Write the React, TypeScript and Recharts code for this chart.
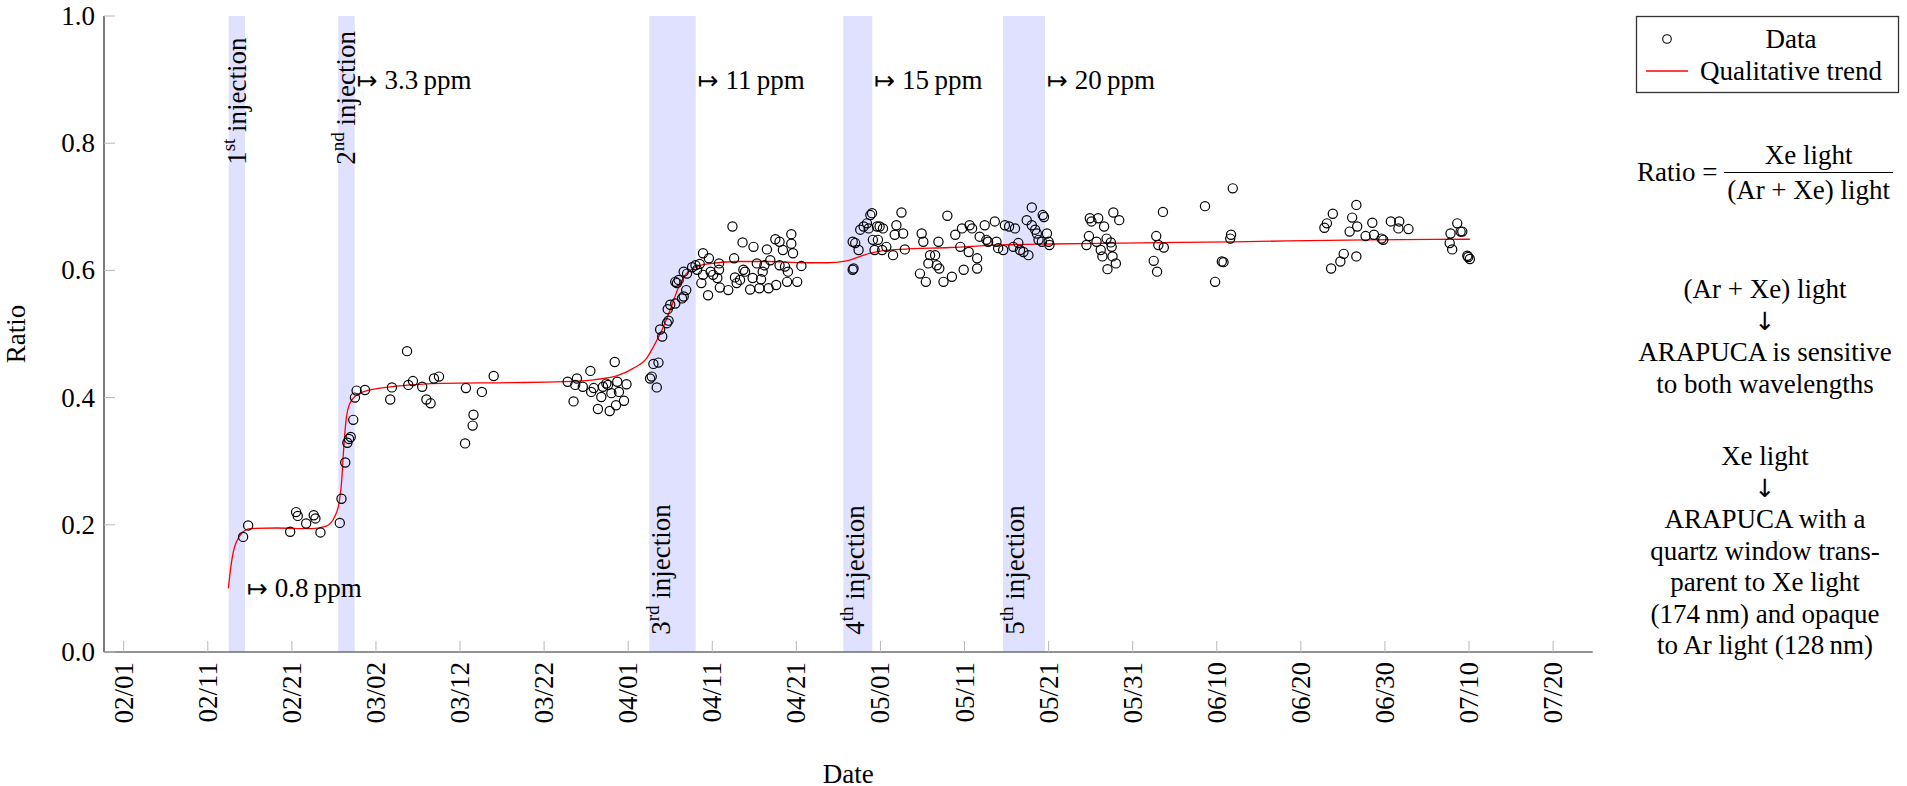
import { ComposedChart, Scatter, Line, XAxis, YAxis, ReferenceArea } from 'recharts'

const SERIF = '"Liberation Serif", "DejaVu Serif", serif'
const ARROWS = '"DejaVu Sans", sans-serif'

// day 0 = 02/01 (2024, leap year)
const START = Date.UTC(2024, 1, 1)
const DAY_MS = 86400000

const xTicks = [0, 10, 20, 30, 40, 50, 60, 70, 80, 90, 100, 110, 120, 130, 140, 150, 160, 170]
const yTicks = [0, 0.2, 0.4, 0.6, 0.8, 1.0]

// injection windows (days since 02/01)
const injectionStart = [12.49, 25.52, 62.51, 85.59, 104.58]
const injectionEnd = [14.43, 27.47, 68.03, 89.03, 109.57]
const injectionSuffix = ['st', 'nd', 'rd', 'th', 'th']
const concentration = ['0.8', '3.3', '11', '15', '20']

// measured ratio, [day, ratio]
const run08ppm: [number, number][] = [
  [14.2, 0.181], [14.8, 0.199], [19.8, 0.189], [20.5, 0.22], [20.7, 0.214], [21.7, 0.202],
  [22.6, 0.215], [22.8, 0.21], [23.4, 0.188], [25.7, 0.203], [25.9, 0.241],
]

const run33ppm: [number, number][] = [
  [26.35, 0.298], [26.6, 0.329], [26.8, 0.335], [27.0, 0.338], [27.3, 0.365], [27.5, 0.4],
  [27.7, 0.411], [28.7, 0.412], [31.7, 0.397], [31.9, 0.416], [33.7, 0.473], [33.85, 0.42],
  [34.4, 0.426], [35.5, 0.417], [36.0, 0.397], [36.5, 0.391], [36.9, 0.43], [37.5, 0.433],
  [40.6, 0.328], [40.7, 0.415], [41.5, 0.356], [41.6, 0.373], [42.6, 0.409], [44.0, 0.434],
  [52.8, 0.425], [53.5, 0.394], [53.7, 0.42], [53.9, 0.43], [54.6, 0.417], [55.5, 0.442],
  [55.6, 0.409], [55.9, 0.415], [56.4, 0.382], [56.8, 0.401], [57.0, 0.417], [57.4, 0.422],
  [57.6, 0.42], [57.8, 0.379], [58.0, 0.407], [58.4, 0.456], [58.55, 0.388], [58.7, 0.425],
  [58.9, 0.409], [59.5, 0.395], [59.8, 0.421],
]

const rise3rd: [number, number][] = [
  [62.6, 0.43], [62.8, 0.433], [63.0, 0.453], [63.4, 0.416], [63.6, 0.455], [63.8, 0.507],
  [64.05, 0.496], [64.6, 0.517], [64.7, 0.539], [64.8, 0.521], [65.0, 0.546], [65.6, 0.548],
  [65.6, 0.582], [65.8, 0.58], [66.0, 0.585], [66.4, 0.556], [66.6, 0.559], [66.6, 0.598],
  [66.9, 0.569], [67.0, 0.595], [67.6, 0.605], [68.0, 0.608],
]

const run11ppm: [number, number][] = [
  [68.2, 0.601], [68.5, 0.61], [68.7, 0.58], [68.9, 0.627], [68.9, 0.593], [69.5, 0.561],
  [69.6, 0.619], [69.8, 0.598], [70.1, 0.593], [70.6, 0.588], [70.8, 0.611], [70.8, 0.601],
  [70.9, 0.573], [71.9, 0.569], [72.4, 0.669], [72.6, 0.619], [72.7, 0.589], [72.9, 0.58],
  [73.3, 0.585], [73.6, 0.644], [73.7, 0.601], [73.9, 0.598], [74.5, 0.57], [74.8, 0.588],
  [74.9, 0.637], [75.3, 0.611], [75.6, 0.572], [75.8, 0.586], [76.0, 0.598], [76.2, 0.608],
  [76.5, 0.633], [76.7, 0.572], [76.9, 0.616], [77.5, 0.649], [77.6, 0.577], [78.0, 0.645],
  [78.0, 0.608], [78.4, 0.632], [78.65, 0.606], [78.9, 0.582], [79.0, 0.598], [79.4, 0.657],
  [79.4, 0.642], [79.6, 0.627], [80.1, 0.582], [80.6, 0.607],
]

const run15ppm: [number, number][] = [
  [86.7, 0.601], [86.8, 0.603], [86.7, 0.645], [87.0, 0.643], [87.4, 0.632], [87.6, 0.664],
  [88.0, 0.669], [88.4, 0.674], [88.6, 0.666], [88.8, 0.687], [89.0, 0.69], [89.1, 0.648],
  [89.3, 0.632], [89.6, 0.669], [89.7, 0.648], [89.9, 0.669], [90.2, 0.632], [90.3, 0.666],
  [90.7, 0.637], [91.5, 0.624], [91.7, 0.656], [91.9, 0.671], [92.5, 0.691], [92.7, 0.658],
  [92.9, 0.633], [94.7, 0.595], [94.9, 0.658], [95.1, 0.645], [95.4, 0.582], [95.7, 0.611],
  [95.9, 0.624], [96.5, 0.624], [96.7, 0.608], [96.9, 0.645], [97.0, 0.603], [97.5, 0.582],
  [97.96, 0.686], [98.5, 0.59], [98.9, 0.656], [99.5, 0.637], [99.7, 0.666], [99.9, 0.601],
  [100.5, 0.629], [100.6, 0.671], [100.9, 0.666], [101.5, 0.619], [101.5, 0.603], [101.8, 0.653],
  [102.4, 0.671], [102.6, 0.648], [102.8, 0.645], [103.6, 0.677], [103.8, 0.645], [104.0, 0.635],
]

const run20ppm: [number, number][] = [
  [104.6, 0.632], [104.8, 0.671], [105.3, 0.669], [105.8, 0.637], [106.0, 0.666], [106.4, 0.643],
  [106.6, 0.632], [107.0, 0.629], [107.4, 0.679], [107.6, 0.624], [108.0, 0.699], [108.0, 0.671],
  [108.4, 0.664], [108.6, 0.658], [108.8, 0.648], [109.2, 0.645], [109.3, 0.687], [109.45, 0.684],
  [109.8, 0.658], [110.0, 0.645], [110.1, 0.64],
  [114.5, 0.64], [114.8, 0.654], [114.9, 0.682], [115.1, 0.677], [115.7, 0.645], [115.9, 0.682],
  [116.2, 0.632], [116.4, 0.622], [116.6, 0.669], [116.9, 0.65], [117.0, 0.602], [117.4, 0.644],
  [117.5, 0.637], [117.6, 0.622], [117.7, 0.691], [118.0, 0.611], [118.4, 0.679],
]

const runLate: [number, number][] = [
  [122.5, 0.615], [122.8, 0.654], [122.9, 0.598], [123.05, 0.64], [123.6, 0.692], [123.7, 0.636],
  [128.6, 0.701], [129.8, 0.582], [130.6, 0.614], [130.8, 0.613], [131.6, 0.65], [131.7, 0.656],
  [131.9, 0.729],
  [142.8, 0.667], [143.1, 0.674], [143.6, 0.603], [143.8, 0.689], [144.7, 0.614], [145.1, 0.626],
  [145.8, 0.661], [146.1, 0.683], [146.6, 0.703], [146.6, 0.622], [146.7, 0.669], [147.7, 0.654],
  [148.5, 0.675], [148.7, 0.656], [149.6, 0.65], [149.8, 0.648], [150.7, 0.677], [151.6, 0.666],
  [151.7, 0.677], [152.8, 0.665],
  [157.7, 0.643], [157.8, 0.658], [158.0, 0.633], [158.6, 0.674], [159.0, 0.661], [159.2, 0.661],
  [159.8, 0.623], [159.9, 0.621], [160.1, 0.618],
]

// qualitative trend
const trendPoints: [number, number][] = [
  [12.45, 0.1], [12.65, 0.124], [13.0, 0.155], [13.4, 0.173], [14.2, 0.189], [15.0, 0.194],
  [18.2, 0.195], [22.2, 0.194], [24.1, 0.198], [25.1, 0.213], [25.6, 0.234], [25.9, 0.265],
  [26.1, 0.307], [26.3, 0.344], [26.5, 0.37], [26.9, 0.391], [27.7, 0.404], [29.3, 0.412],
  [32.5, 0.418], [38.0, 0.4225], [45.9, 0.4235], [52.3, 0.425], [55.9, 0.428], [58.6, 0.434],
  [60.6, 0.446], [62.2, 0.462], [63.0, 0.48], [64.0, 0.506], [65.0, 0.538], [66.0, 0.574],
  [66.8, 0.593], [67.7, 0.603], [69.3, 0.61], [72.9, 0.614], [76.9, 0.614], [80.8, 0.612],
  [83.6, 0.612], [86.0, 0.615], [87.6, 0.622], [88.8, 0.627], [90.3, 0.631], [92.3, 0.633],
  [98.3, 0.636], [104.2, 0.64], [110.2, 0.6415], [116.2, 0.6425], [132.0, 0.645], [147.8, 0.648],
  [160.1, 0.649],
]

const observations = [...run08ppm, ...run33ppm, ...rise3rd, ...run11ppm, ...run15ppm, ...run20ppm, ...runLate]
  .map(([day, ratio]) => ({ day, ratio }))
const trend = trendPoints.map(([day, ratio]) => ({ day, ratio }))

const fmtDate = (d: number) => {
  const t = new Date(START + d * DAY_MS)
  return `${String(t.getUTCMonth() + 1).padStart(2, '0')}/${String(t.getUTCDate()).padStart(2, '0')}`
}

const TICK_GRAY = '#b8b8b8'

const BottomTick = ({ x, y, payload }: any) => (
  <g>
    <line x1={x} y1={y} x2={x} y2={y - 11} stroke={TICK_GRAY} />
    <text x={x} y={y + 10} transform={`rotate(-90 ${x} ${y + 10})`} textAnchor="end" dominantBaseline="central"
      fontSize={27} fontFamily={SERIF} fill="#000">{fmtDate(payload.value)}</text>
  </g>
)

const TopTick = ({ x, y }: any) => <line x1={x} y1={y} x2={x} y2={y + 11} stroke={TICK_GRAY} />

const LeftTick = ({ x, y, payload }: any) => (
  <g>
    <line x1={x} y1={y} x2={x + 11} y2={y} stroke={TICK_GRAY} />
    <text x={x - 9} y={y} textAnchor="end" dominantBaseline="central" fontSize={27} fontFamily={SERIF} fill="#000">
      {payload.value.toFixed(1)}
    </text>
  </g>
)

const RightTick = ({ x, y }: any) => <line x1={x - 11} y1={y} x2={x} y2={y} stroke={TICK_GRAY} />

const Ring = (p: any) => <circle cx={p.cx} cy={p.cy} r={4.6} fill="none" stroke="#000" strokeWidth={1.2} />

// drawn in a second pass so the text sits above every band
const BandAnnotation = ({ viewBox, index }: any) => {
  if (!viewBox) return null
  const { x, y, width, height } = viewBox
  const atTop = index < 2
  const lx = x + Math.min(width / 2, 12)
  const ly = y + height * (1 - (atTop ? 0.766 : 0.027))
  const py = y + height * (1 - (index === 0 ? 0.1 : 0.9))
  return (
    <g fontFamily={SERIF} fill="#000">
      <text x={lx} y={ly} transform={`rotate(-90 ${lx} ${ly})`} fontSize={27} dominantBaseline="central">
        <tspan>{index + 1}</tspan>
        <tspan dy={-9} fontSize={19}>{injectionSuffix[index]}</tspan>
        <tspan dy={9}>{' injection'}</tspan>
      </text>
      <text x={x + width + 2} y={py} fontSize={27} dominantBaseline="central">
        <tspan fontFamily={ARROWS} fontSize={25}>{'\u21A6'}</tspan>
        <tspan>{' ' + concentration[index] + '\u2009ppm'}</tspan>
      </text>
    </g>
  )
}

const LegendBox = () => (
  <svg width={266} height={80} style={{ position: 'absolute', left: 1635, top: 15 }}>
    <rect x={1.5} y={1.5} width={262} height={76} fill="#fff" stroke="#333" strokeWidth={1.3} />
    <circle cx={32} cy={24} r={4.3} fill="none" stroke="#000" strokeWidth={1.1} />
    <line x1={11} x2={53} y1={56} y2={56} stroke="#ff0000" strokeWidth={1.3} />
    <text x={156} y={24} textAnchor="middle" dominantBaseline="central" fontSize={27} fontFamily={SERIF}>Data</text>
    <text x={156} y={56} textAnchor="middle" dominantBaseline="central" fontSize={27} fontFamily={SERIF}>Qualitative trend</text>
  </svg>
)

const Down = () => <span style={{ fontFamily: ARROWS, fontSize: 25 }}>↓</span>

const SideNotes = () => {
  const block = { position: 'absolute' as const, left: 1615, width: 300, textAlign: 'center' as const, fontSize: 27, lineHeight: '31.5px' }
  return (
    <>
      <div style={{ position: 'absolute', left: 1615, width: 300, top: 132, height: 80, display: 'flex', alignItems: 'center', justifyContent: 'center', fontSize: 27 }}>
        <span>Ratio&nbsp;=&nbsp;</span>
        <span style={{ display: 'inline-flex', flexDirection: 'column', alignItems: 'center' }}>
          <span style={{ lineHeight: '34px' }}>Xe light</span>
          <span style={{ borderTop: '1.5px solid #000', alignSelf: 'stretch' }} />
          <span style={{ lineHeight: '34px', padding: '0 3px' }}>(Ar + Xe) light</span>
        </span>
      </div>
      <div style={{ ...block, top: 274 }}>
        (Ar + Xe) light<br /><Down /><br />ARAPUCA is sensitive<br />to both wavelengths
      </div>
      <div style={{ ...block, top: 441 }}>
        Xe light<br /><Down /><br />ARAPUCA with a<br />quartz window trans-<br />parent to Xe light<br />
        (174{'\u2009'}nm) and opaque<br />to Ar light (128{'\u2009'}nm)
      </div>
    </>
  )
}

export default function App() {
  return (
    <div style={{ position: 'absolute', left: 0, top: 0, width: 1907, height: 786, background: '#fff', fontFamily: SERIF, color: '#000' }}>
      <ComposedChart width={1907} height={786} margin={{ top: 16, right: 314.3, bottom: 0, left: 0 }}>
        {injectionStart.map((s, i) => (
          <ReferenceArea key={`band-${i}`} x1={s} x2={injectionEnd[i]} y1={0} y2={1} fill="#e0e0ff" fillOpacity={1} stroke="none" />
        ))}
        {injectionStart.map((s, i) => (
          <ReferenceArea key={`note-${i}`} x1={s} x2={injectionEnd[i]} y1={0} y2={1} fill="none" stroke="none"
            label={<BandAnnotation index={i} />} />
        ))}
        <XAxis dataKey="day" type="number" domain={[-2.343, 174.71]} allowDataOverflow ticks={xTicks} interval={0}
          height={134} tickSize={0} tickMargin={0} tickLine={false} tick={BottomTick}
          axisLine={{ stroke: '#6e6e6e', strokeWidth: 1.3 }}
          label={{ value: 'Date', position: 'insideBottom', offset: 3, fontSize: 27, fill: '#000', fontFamily: SERIF }} />
        <XAxis xAxisId="top" orientation="top" dataKey="day" type="number" domain={[-2.343, 174.71]} allowDataOverflow
          ticks={xTicks} interval={0} height={0} tickSize={0} tickMargin={0} tickLine={false} tick={TopTick}
          axisLine={{ stroke: '#333', strokeWidth: 1.3 }} />
        <YAxis type="number" domain={[0, 1]} allowDataOverflow ticks={yTicks} interval={0} width={104}
          tickSize={0} tickMargin={0} tickLine={false} tick={LeftTick} axisLine={{ stroke: '#333', strokeWidth: 1.3 }}
          label={{ value: 'Ratio', angle: -90, position: 'insideLeft', offset: 15, fontSize: 27, fill: '#000', fontFamily: SERIF, style: { textAnchor: 'middle' } }} />
        <YAxis yAxisId="right" orientation="right" type="number" domain={[0, 1]} allowDataOverflow ticks={yTicks}
          interval={0} width={0} tickSize={0} tickMargin={0} tickLine={false} tick={RightTick}
          axisLine={{ stroke: '#333', strokeWidth: 1.3 }} />
        <Scatter data={observations} dataKey="ratio" shape={Ring} isAnimationActive={false} />
        <Line data={trend} dataKey="ratio" type="monotone" stroke="#ff0000" strokeWidth={1.3} dot={false}
          activeDot={false} isAnimationActive={false} />
      </ComposedChart>
      <LegendBox />
      <SideNotes />
    </div>
  )
}
